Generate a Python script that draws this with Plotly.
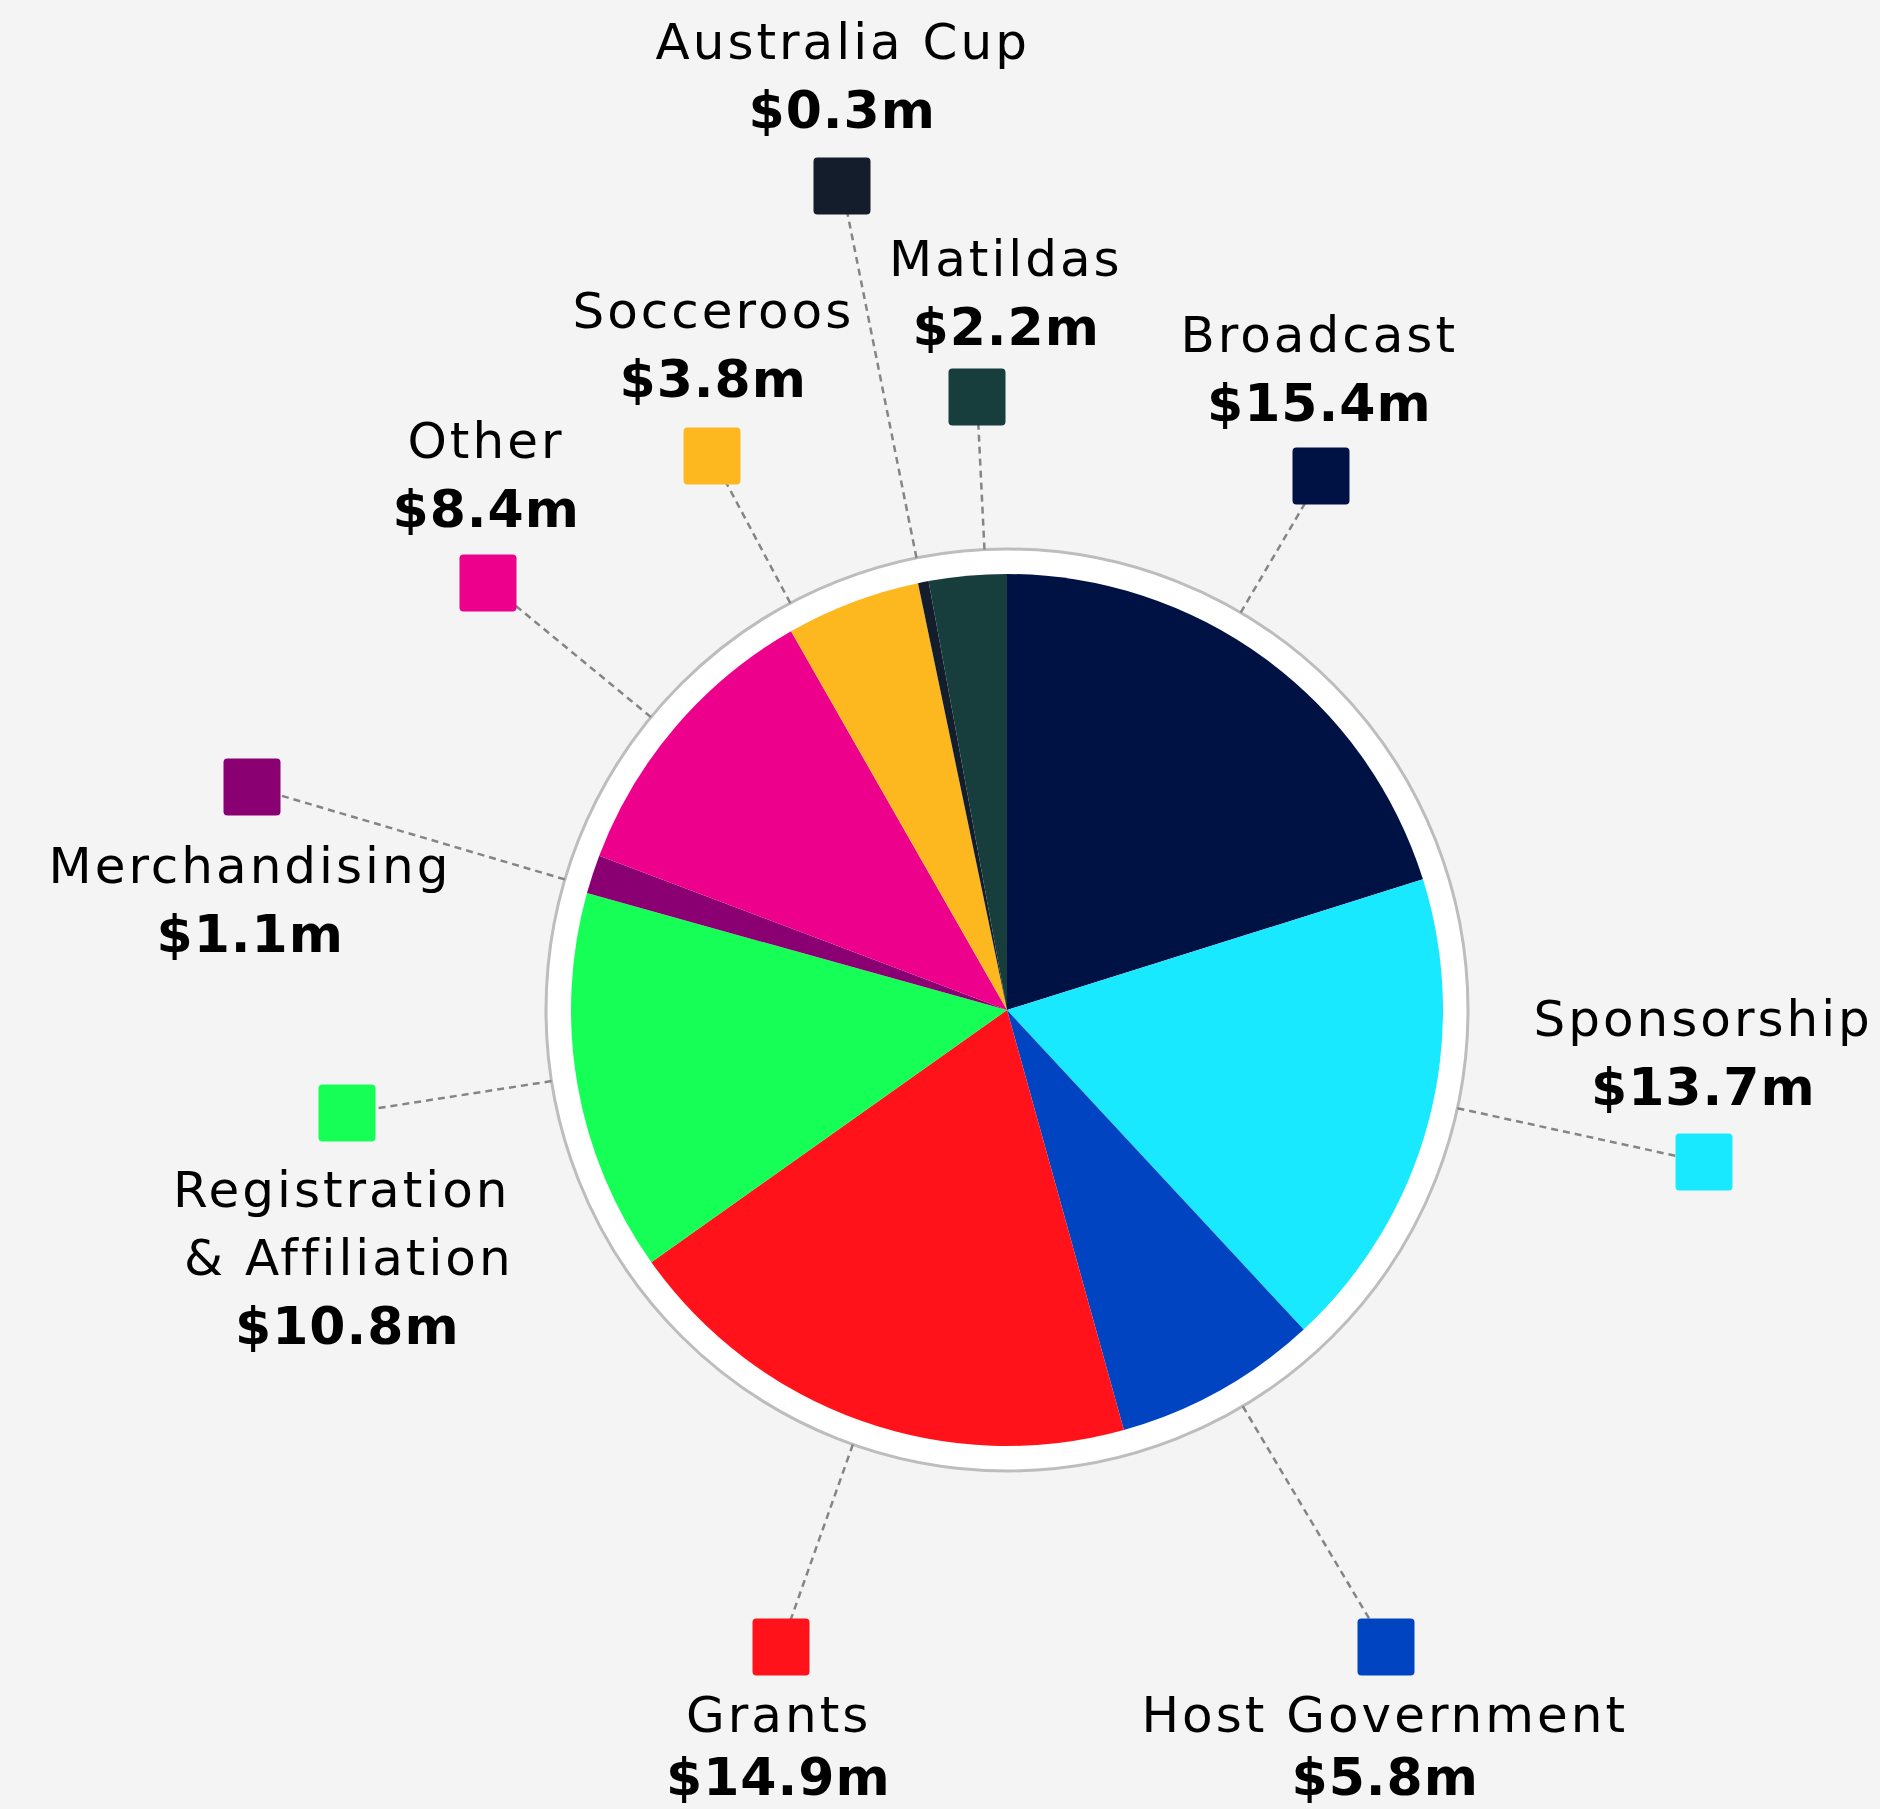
import plotly.graph_objects as go
import math

# ---------------- data ----------------
categories = ["Broadcast", "Sponsorship", "Host Government", "Grants",
              "Registration & Affiliation", "Merchandising", "Other",
              "Socceroos", "Australia Cup", "Matildas"]
values = [15.4, 13.7, 5.8, 14.9, 10.8, 1.1, 8.4, 3.8, 0.3, 2.2]
colors = ["#001243", "#19e9ff", "#0044c1", "#ff121a", "#15ff57",
          "#8a0073", "#ec008c", "#fdb820", "#131d2b", "#173d3c"]

# ---------------- layout (pixel positions of the callouts) ----------------
W, H = 1880, 1809
CX, CY, R = 1007, 1010, 436      # pie centre / radius in px
RING = 461                       # outer white ring radius
# square marker centres
sq_x = [1321, 1704, 1386, 781, 347, 252, 488, 712, 842, 977]
sq_y = [476, 1162, 1647, 1647, 1113, 787, 583, 456, 186, 397]
# label text centre x and name-line middle y (value line follows)
lab_x = [1319, 1703, 1385, 778, 342, 250, 486, 713, 842, 1006]
lab_y = [335, 1019, 1715, 1715, 1190, 866, 441, 311, 42, 259]
val_gap = [68, 68, 62, 62, 68, 68, 68, 68, 68, 68]
LINE_GAP = 68      # between name lines
SQ = 57

NAME_FONT = dict(family="DejaVu Sans", size=50, color="#000000")
VAL_FONT = dict(family="DejaVu Sans", size=52, color="#000000", weight="bold")


def px(x):
    return x / W


def py(y):
    return 1 - y / H


fig = go.Figure()

fig.add_trace(go.Pie(
    labels=categories, values=values, sort=False, direction="clockwise",
    rotation=0, textinfo="none", hoverinfo="label+value",
    marker=dict(colors=colors, line=dict(width=0)),
    showlegend=False,
    domain=dict(x=[px(CX - R), px(CX + R)], y=[py(CY + R), py(CY - R)]),
))

shapes = []
# white ring with grey outline behind the pie
shapes.append(dict(type="circle", xref="paper", yref="paper", layer="below",
                   x0=px(CX - RING), x1=px(CX + RING),
                   y0=py(CY + RING), y1=py(CY - RING),
                   fillcolor="#ffffff", line=dict(color="#bdbdbd", width=3)))

annotations = []
for i, cat in enumerate(categories):
    sx, sy = sq_x[i], sq_y[i]
    dx, dy = sx - CX, sy - CY
    d = math.hypot(dx, dy)
    x0, y0 = CX + dx / d * RING, CY + dy / d * RING
    shapes.append(dict(type="line", xref="paper", yref="paper", layer="above",
                       x0=px(x0), y0=py(y0), x1=px(sx), y1=py(sy),
                       line=dict(color="#858585", width=2.5, dash="7px,5px")))
    # rounded square marker
    h = SQ / 2
    rr = 4
    l, r_, t, b = sx - h, sx + h, sy - h, sy + h
    pts = [("M", l + rr, t), ("L", r_ - rr, t), ("Q", r_, t, r_, t + rr),
           ("L", r_, b - rr), ("Q", r_, b, r_ - rr, b), ("L", l + rr, b),
           ("Q", l, b, l, b - rr), ("L", l, t + rr), ("Q", l, t, l + rr, t)]
    path = ""
    for p in pts:
        if p[0] == "Q":
            path += f"Q{px(p[1]):.6f},{py(p[2]):.6f} {px(p[3]):.6f},{py(p[4]):.6f} "
        else:
            path += f"{p[0]}{px(p[1]):.6f},{py(p[2]):.6f} "
    path += "Z"
    shapes.append(dict(type="path", xref="paper", yref="paper", layer="above",
                       path=path, fillcolor=colors[i], line=dict(width=0)))

    # labels
    name_lines = cat.replace(" & ", "\n& ").split("\n")
    yy = lab_y[i]
    for k, ln in enumerate(name_lines):
        xoff = 7 if k > 0 else 0
        annotations.append(dict(text=ln, x=px(lab_x[i] + xoff), y=py(yy + k * LINE_GAP),
                                xref="paper", yref="paper", showarrow=False,
                                xanchor="center", yanchor="middle", font=NAME_FONT))
    vy = yy + (len(name_lines) - 1) * LINE_GAP + val_gap[i]
    annotations.append(dict(text=f"${values[i]:.1f}m", x=px(lab_x[i] + (5 if len(name_lines) > 1 else 0)),
                            y=py(vy), xref="paper", yref="paper", showarrow=False,
                            xanchor="center", yanchor="middle", font=VAL_FONT))

fig.update_layout(
    width=W, height=H, margin=dict(l=0, r=0, t=0, b=0),
    paper_bgcolor="#f4f4f4", plot_bgcolor="#f4f4f4",
    shapes=shapes, annotations=annotations, showlegend=False,
)

post = (
    "document.body.style.margin='0';document.body.style.overflow='hidden';"
    "document.querySelectorAll('g.annotation text.annotation-text').forEach(function(t){"
    "if(t.style.fontWeight!=='bold'&&t.style.fontWeight!=='700'){t.style.letterSpacing='3px';}"
    "else{t.style.letterSpacing='1px';}});"
)
fig.write_html("out.html", config={"displayModeBar": False}, post_script=post)
